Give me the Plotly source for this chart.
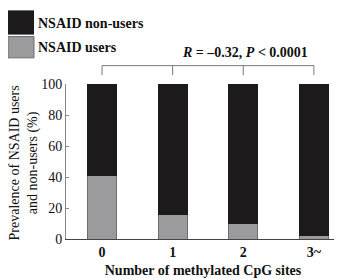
import plotly.graph_objects as go

categories = ["0", "1", "2", "3~"]
users = [41, 16, 10, 2]
non_users = [59, 84, 90, 98]
y_ticks = [0, 20, 40, 60, 80, 100]

SERIF = "Liberation Serif, Times New Roman, serif"

fig = go.Figure()
fig.add_trace(go.Bar(x=categories, y=users, name="NSAID users",
                     marker=dict(color="#9b9b9d", line=dict(color="#6e6e70", width=1)),
                     width=0.41, showlegend=False))
fig.add_trace(go.Bar(x=categories, y=non_users, name="NSAID non-users",
                     marker=dict(color="#1c1a1b", line=dict(color="#1c1a1b", width=1)),
                     width=0.41, showlegend=False))

W, H = 342, 278
L, R, T, B = 58, 10, 76, 42
pw, ph = W - L - R, H - T - B

def px(xp):
    return (xp - L) / pw

def py(yp):
    return (H - B - yp) / ph

shapes = []
# legend squares
shapes.append(dict(type="rect", xref="paper", yref="paper", x0=px(0), x1=px(26), y0=py(25), y1=py(0),
                   fillcolor="#1c1a1b", line=dict(width=0)))
shapes.append(dict(type="rect", xref="paper", yref="paper", x0=px(0), x1=px(26), y0=py(49), y1=py(27),
                   fillcolor="#9b9b9d", line=dict(color="#6e6e70", width=1)))
# bracket
shapes.append(dict(type="line", xref="x", yref="paper", x0=0, x1=3, y0=py(57), y1=py(57),
                   line=dict(color="#7a7a7a", width=1)))
for i in range(len(categories)):
    shapes.append(dict(type="line", xref="x", yref="paper", x0=i, x1=i, y0=py(57), y1=py(67),
                       line=dict(color="#7a7a7a", width=1)))

annotations = [
    dict(text="<b>NSAID non-users</b>", xref="paper", yref="paper", x=px(28), y=py(14),
         xanchor="left", yanchor="middle", showarrow=False, font=dict(family=SERIF, size=14, color="#111")),
    dict(text="<b>NSAID users</b>", xref="paper", yref="paper", x=px(28), y=py(38),
         xanchor="left", yanchor="middle", showarrow=False, font=dict(family=SERIF, size=14, color="#111")),
    dict(text="<b><i>R</i> = \u20130.32, <i>P</i> &lt; 0.0001</b>", xref="paper", yref="paper",
         x=px(237), y=py(43), xanchor="center", yanchor="middle", showarrow=False,
         font=dict(family=SERIF, size=14, color="#111")),
    dict(text="Prevalence of NSAID users<br>and non-users (%)", xref="paper", yref="paper",
         x=px(16), y=py(158), xanchor="center", yanchor="middle", textangle=-90, showarrow=False,
         font=dict(family=SERIF, size=14, color="#111")),
]

fig.update_layout(
    barmode="stack",
    width=W, height=H,
    margin=dict(l=L, r=R, t=T, b=B, pad=0),
    paper_bgcolor="white", plot_bgcolor="white",
    shapes=shapes, annotations=annotations,
    font=dict(family=SERIF, color="#111"),
    xaxis=dict(range=[-0.51, 3.37], showline=True, linecolor="#444", linewidth=1,
               ticks="", showgrid=False, zeroline=False,
               tickvals=categories, ticktext=["<b>%s</b>" % c for c in categories],
               tickfont=dict(family=SERIF, size=14, color="#111"),
               title=dict(text="<b>Number of methylated CpG sites</b>", standoff=6,
                          font=dict(family=SERIF, size=14, color="#111"))),
    yaxis=dict(range=[0, 100], showline=True, linecolor="#888", linewidth=1,
               ticks="inside", ticklen=3, tickcolor="#888", tickvals=y_ticks,
               showgrid=False, zeroline=False,
               tickfont=dict(family=SERIF, size=14, color="#111")),
)

fig.write_html("out.html")
